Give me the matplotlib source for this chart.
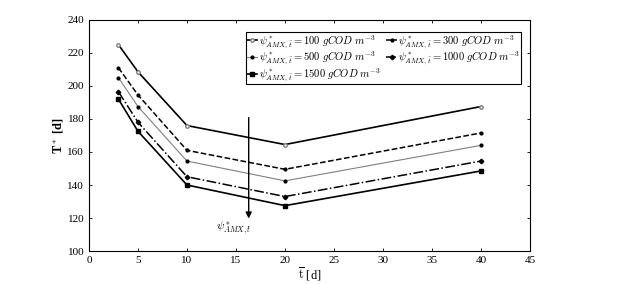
import matplotlib
matplotlib.use("Agg")
import matplotlib.pyplot as plt

plt.rcParams['mathtext.fontset'] = 'cm'
plt.rcParams['font.family'] = ['Liberation Serif', 'DejaVu Serif']

t = [3, 5, 10, 20, 40]
psi_labels = ['100', '300', '500', '1000', '1500']
T100 = [225, 208.5, 176, 164.5, 187.5]
T300 = [211, 194.5, 161, 149.5, 171.5]
T500 = [205, 187.5, 154.5, 142.5, 164]
T1000 = [196.5, 178, 145, 133, 154.5]
T1500 = [192, 172.5, 140, 127.5, 148.5]

series = [T100, T300, T500, T1000, T1500]
styles = [
    dict(color='black', ls='-', lw=1.2, marker='o', ms=2.5, mfc='white', mec='gray'),
    dict(color='black', ls='--', lw=1.1, marker='.', ms=4),
    dict(color='gray', ls='-', lw=0.8, marker='.', ms=4, mec='black', mfc='black'),
    dict(color='black', ls='-.', lw=1.1, marker='D', ms=2.3),
    dict(color='black', ls='-', lw=1.2, marker='s', ms=2.6),
]

fig = plt.figure(figsize=(6.27, 2.84), dpi=100)
ax = fig.add_axes([0.142, 0.116, 0.703, 0.814])

handles = []
for vals, lab, st in zip(series, psi_labels, styles):
    h, = ax.plot(t, vals, label=r'$\psi^*_{AMX,\bar{t}} = %s\ gCOD\ m^{-3}$' % lab, **st)
    handles.append(h)

ax.set_xlim(0, 45)
ax.set_ylim(100, 240)
ax.set_xticks(range(0, 46, 5))
ax.set_yticks(range(100, 241, 20))
ax.tick_params(direction='in', top=True, right=True, labelsize=8, length=2.5, width=0.6)
for s in ax.spines.values():
    s.set_linewidth(0.8)

ax.set_xlabel(r'$\overline{\mathrm{t}}$ [d]', fontsize=9, labelpad=1)
ax.set_ylabel(r'$\mathbf{T^*}$ [d]', fontsize=9, fontweight='bold', labelpad=1)

ax.annotate('', xy=(16.3, 118), xytext=(16.3, 182.5),
            arrowprops=dict(arrowstyle='-|>', color='black', lw=1.0, mutation_scale=9))
ax.text(14.8, 113.5, r'$\psi^*_{AMX,\bar{t}}$', fontsize=8, ha='center', va='center')

order = [0, 2, 4, 1, 3]
leg = ax.legend([handles[i] for i in order], [handles[i].get_label() for i in order],
                loc='upper right', ncol=2, fontsize=7.6, frameon=True, fancybox=False,
                edgecolor='black', framealpha=1, borderpad=0.1, labelspacing=0.0,
                handlelength=1.0, handletextpad=0.15, columnspacing=0.5,
                bbox_to_anchor=(0.993, 0.972))
leg.get_frame().set_linewidth(0.8)

fig.savefig('out.png', dpi=100)
